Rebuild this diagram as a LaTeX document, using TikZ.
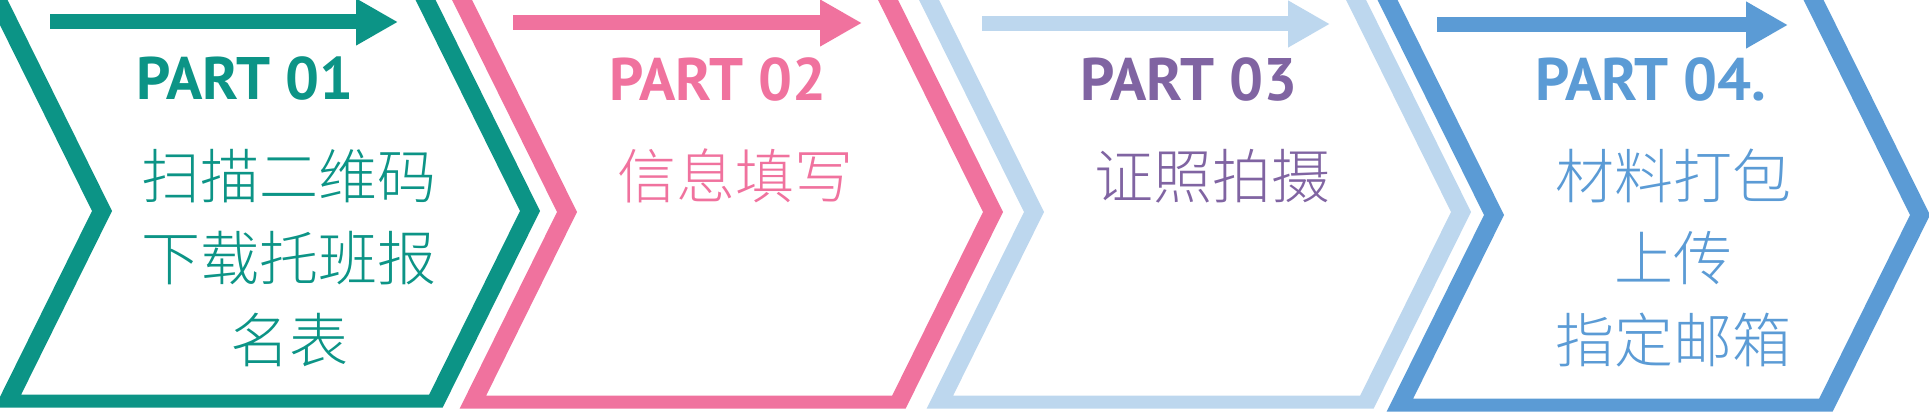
\documentclass[tikz,border=0pt]{standalone}
\usepackage{xcolor}
\usepackage{fontspec}
\usetikzlibrary{arrows.meta}
\newfontfamily\cjk{Noto Sans CJK SC Light}
\newfontfamily\partfont{PT Sans}
\definecolor{stepteal}{RGB}{12,148,134}
\definecolor{steppink}{RGB}{240,114,158}
\definecolor{steplight}{RGB}{189,215,238}
\definecolor{stepblue}{RGB}{91,155,213}
\definecolor{steppurple}{RGB}{128,100,162}

\begin{document}
\begin{tikzpicture}[x=1pt,y=-1pt,
    parttitle/.style={font=\partfont\bfseries\fontsize{60}{60}\selectfont,inner sep=0pt},
    steptext/.style={font=\cjk\fontsize{59}{82}\selectfont,align=center,inner sep=0pt},
    flowarrow/.style={line width=15pt,-{Triangle[length=42pt 0 0,width=44pt 0 0]}}]
    \useasboundingbox (0,0) rectangle (1929,414);
    \clip (0,0) rectangle (1929,414);

    % chevron bands, open at the top
    \fill[stepteal,even odd rule] (-32.2,-40) -- (92,211) -- (-5.3,407.5) -- (442.7,407.5) -- (540,211) -- (415.8,-40) -- cycle
        (-12.2,-40) -- (112,211) -- (21.2,394.5) -- (429.2,394.5) -- (520,211) -- (395.8,-40) -- cycle;
    \fill[steppink,even odd rule] (432.3,-40) -- (557,212) -- (459.7,408.5) -- (905.7,408.5) -- (1003,212) -- (878.3,-40) -- cycle
        (452.3,-40) -- (577,212) -- (486.2,395.5) -- (892.2,395.5) -- (983,212) -- (858.3,-40) -- cycle;
    \fill[steplight,even odd rule] (899.3,-40) -- (1024,212) -- (926.7,408.5) -- (1373.7,408.5) -- (1471,212) -- (1346.3,-40) -- cycle
        (919.3,-40) -- (1044,212) -- (953.2,395.5) -- (1360.2,395.5) -- (1451,212) -- (1326.3,-40) -- cycle;
    \fill[stepblue,even odd rule] (1357.8,-40) -- (1484,215) -- (1386.7,411.5) -- (1832.7,411.5) -- (1930,215) -- (1803.8,-40) -- cycle
        (1377.8,-40) -- (1504,215) -- (1413.2,398.5) -- (1819.2,398.5) -- (1910,215) -- (1783.8,-40) -- cycle;

    \coordinate (A1) at (50,22);
    \coordinate (B1) at (398,22);
    \coordinate (A2) at (513,23);
    \coordinate (B2) at (862,23);
    \coordinate (A3) at (982,24);
    \coordinate (B3) at (1330,24);
    \coordinate (A4) at (1437,25);
    \coordinate (B4) at (1788,25);

    \draw[flowarrow,stepteal] (A1) -- (B1);
    \draw[flowarrow,steppink] (A2) -- (B2);
    \draw[flowarrow,steplight] (A3) -- (B3);
    \draw[flowarrow,stepblue] (A4) -- (B4);

    \node[parttitle,text=stepteal] (P1) at (245,79) {PART 01};
    \node[parttitle,text=steppink] (P2) at (718,80) {PART 02};
    \node[parttitle,text=steppurple] (P3) at (1189,80) {PART 03};
    \node[parttitle,text=stepblue] (P4) at (1651,80) {PART 04.};

    \node[steptext,text=stepteal] (S1) at (289,258) {扫描二维码\\下载托班报\\名表};
    \node[steptext,text=steppink] (S2) at (735,176) {信息填写};
    \node[steptext,text=steppurple] (S3) at (1212,176) {证照拍摄};
    \node[steptext,text=stepblue] (S4) at (1673,258) {材料打包\\上传\\指定邮箱};
\end{tikzpicture}
\end{document}
